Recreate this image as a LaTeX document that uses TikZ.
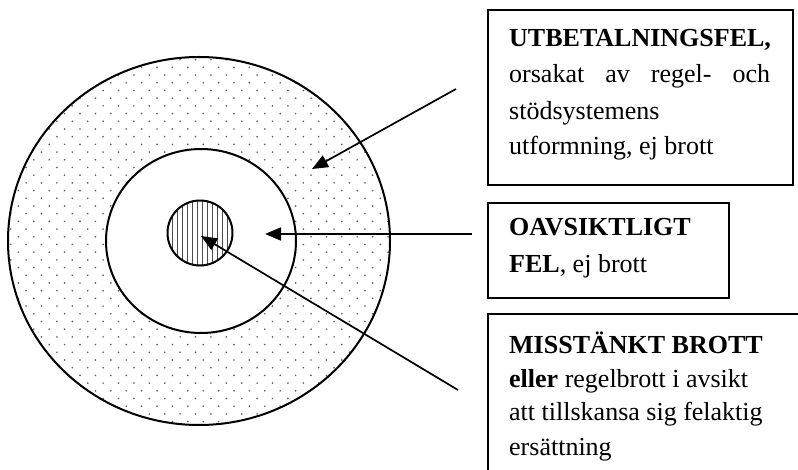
\documentclass[tikz,border=0pt]{standalone}
\usepackage{fontspec}
\setmainfont{Liberation Serif}
\usetikzlibrary{arrows.meta}
\definecolor{dotgray}{gray}{0.4}
\definecolor{hatchgray}{gray}{0.3}
\begin{document}
\begin{tikzpicture}[x=1pt,y=-1pt,
  ring/.style={line width=2pt},
  boxframe/.style={draw, line width=1.8pt, inner sep=0pt, anchor=north west},
  txt/.style={anchor=base west, inner sep=0pt, font=\fontsize{26}{30}\selectfont},
  pointer/.style={line width=1.7pt, -{Triangle[length=16pt,width=13pt]}}]
\clip (0,0) rectangle (798,470);
\fill[white] (0,0) rectangle (798,470);
% dotted outer ring
\begin{scope}
  \clip (199,241) ellipse [x radius=191, y radius=184];
  \foreach \j in {0,...,50} {
    \pgfmathsetmacro{\yy}{52+\j*7.7}
    \pgfmathsetmacro{\xo}{3+mod(\j,2)*7.7}
    \foreach \i in {0,...,26} {
      \fill[dotgray] ({\xo+\i*15.4},\yy) circle[radius=0.95];
    }
  }
\end{scope}
\fill[white] (201,241) ellipse [x radius=95, y radius=92];
\draw[ring] (199,241) ellipse [x radius=191, y radius=184];
\draw[ring] (201,241) ellipse [x radius=95, y radius=92];
% hatched core
\fill[white] (200,233) circle[radius=32.5];
\begin{scope}
  \clip (200,233) circle[radius=32.5];
  \foreach \x in {167.5,172.5,...,235} \draw[hatchgray, line width=1.7pt] (\x,195) -- (\x,272);
\end{scope}
\draw[ring] (200,233) circle[radius=32.5];
% boxes
\node[boxframe, minimum width=305pt, minimum height=175pt] (box1) at (487,9) {};
\node[boxframe, minimum width=241pt, minimum height=95pt] (box2) at (487,202) {};
\node[boxframe, minimum width=340pt, minimum height=200pt] (box3) at (487,313) {};
% texts
\node[txt] (l1a) at (509,47) {\bfseries UTBETALNINGSFEL,};
\node[txt] (l1b) at (509,83) {\makebox[261pt][s]{orsakat av regel- och}};
\node[txt] (l1c) at (509,120) {stödsystemens};
\node[txt] (l1d) at (509,155) {utformning, ej brott};
\node[txt] (l2a) at (509,236) {\bfseries OAVSIKTLIGT};
\node[txt] (l2b) at (509,273) {\textbf{FEL}, ej brott};
\node[txt] (l3a) at (509,353) {\bfseries MISSTÄNKT BROTT};
\node[txt] (l3b) at (509,387) {\textbf{eller} regelbrott i avsikt};
\node[txt] (l3c) at (509,420) {att tillskansa sig felaktig};
\node[txt] (l3d) at (509,455) {ersättning};
% arrows
\coordinate (s1) at (456,89);
\coordinate (e1) at (312,169);
\coordinate (s2) at (472,234);
\coordinate (e2) at (265,234);
\coordinate (s3) at (458,390);
\coordinate (e3) at (201,236);
\draw[pointer] (s1) -- (e1);
\draw[pointer] (s2) -- (e2);
\draw[pointer] (s3) -- (e3);
\end{tikzpicture}
\end{document}
